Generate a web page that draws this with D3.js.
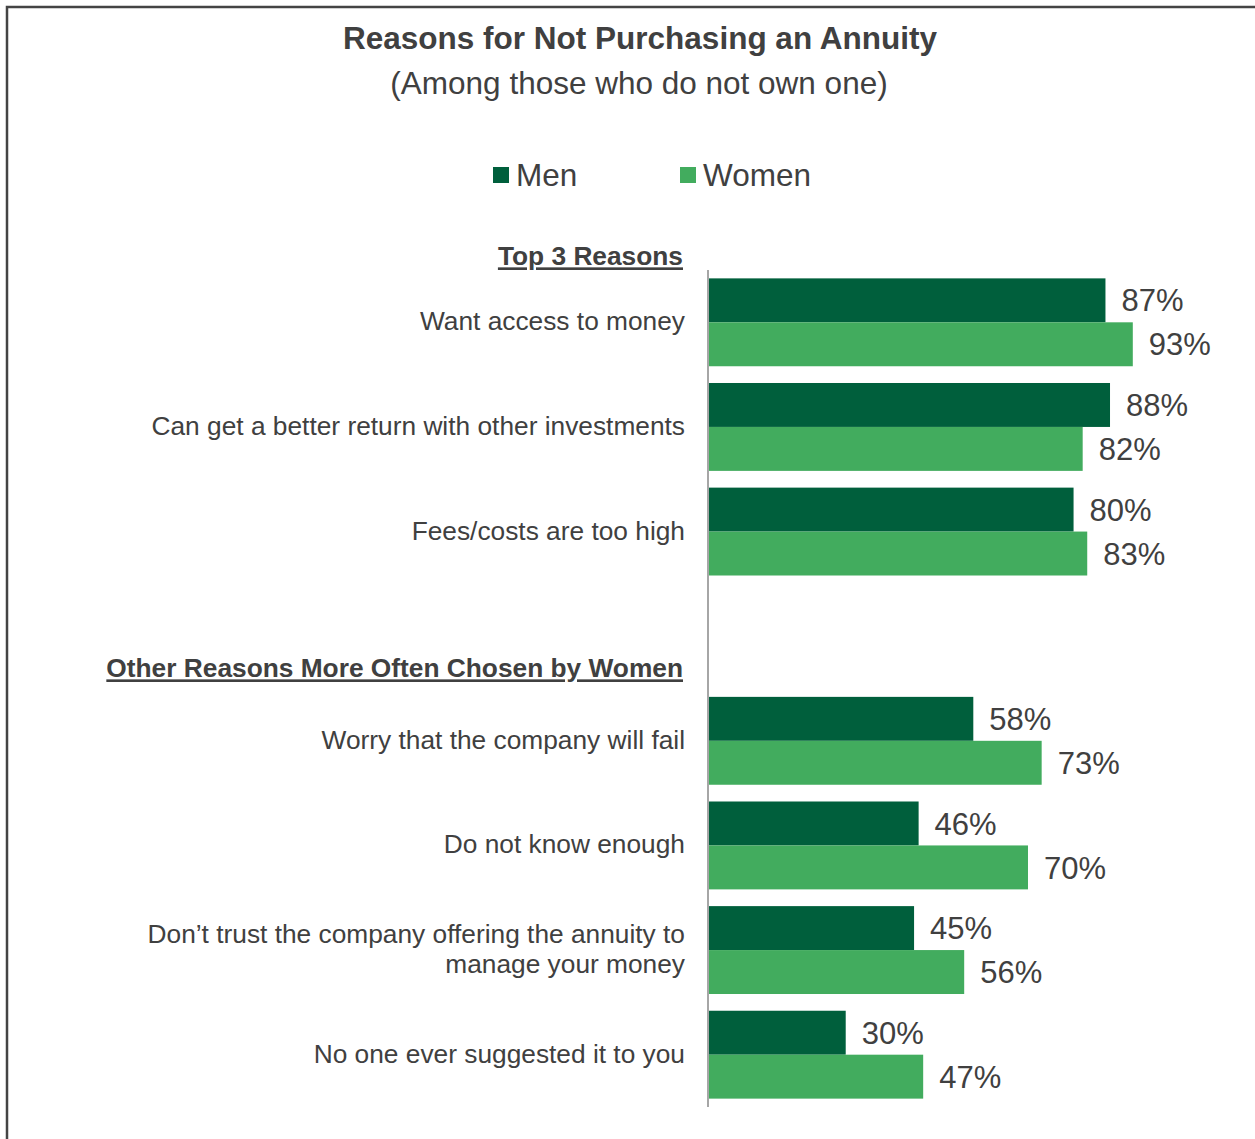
<!DOCTYPE html>
<html>
<head>
<meta charset="utf-8">
<script src="https://cdn.jsdelivr.net/npm/d3@7"></script>
<style>
  html, body { margin: 0; padding: 0; background: #fff; }
  svg { display: block; font-family: "Liberation Sans", Arial, sans-serif; }
  .lbl { fill: #404040; }
</style>
</head>
<body>
<svg id="chart"></svg>
<script>
// ── data ──
const categories = [
  'Want access to money',
  'Can get a better return with other investments',
  'Fees/costs are too high',
  '',                                    // spacer between the two sections
  'Worry that the company will fail',
  'Do not know enough',
  'Don’t trust the company offering the annuity to|manage your money',
  'No one ever suggested it to you'
];
const men   = [87, 88, 80, null, 58, 46, 45, 30];
const women = [93, 82, 83, null, 73, 70, 56, 47];
const seriesNames = ['Men', 'Women'];
const sectionHeads = [
  { text: 'Top 3 Reasons', before: 0 },
  { text: 'Other Reasons More Often Chosen by Women', before: 4 }
];

const W = 1255, H = 1139;
const COL = { Men: '#005F3C', Women: '#42AC5E' };

const svg = d3.select('#chart').attr('width', W).attr('height', H);

// frame (only left + top edges fall inside the picture)
svg.append('rect').attr('x', 7).attr('y', 7).attr('width', W + 20).attr('height', H + 20)
  .attr('fill', 'none').attr('stroke', '#444').attr('stroke-width', 2.5);

// title
svg.append('text').attr('class', 'lbl').attr('x', 640).attr('y', 49)
  .attr('text-anchor', 'middle').attr('font-size', 31.5).attr('font-weight', 'bold')
  .text('Reasons for Not Purchasing an Annuity');
svg.append('text').attr('class', 'lbl').attr('x', 639).attr('y', 94)
  .attr('text-anchor', 'middle').attr('font-size', 31.5)
  .text('(Among those who do not own one)');

// legend
const legX = [493, 680];
seriesNames.forEach((s, i) => {
  svg.append('rect').attr('x', legX[i]).attr('y', 167).attr('width', 16).attr('height', 16).attr('fill', COL[s]);
  svg.append('text').attr('class', 'lbl').attr('x', legX[i] + 23).attr('y', 186)
    .attr('font-size', 31.5).text(s);
});

// scales
const keys = categories.map((c, i) => 'c' + i);
const y = d3.scaleBand().domain(keys).range([270, 1107]).paddingInner(0.16).paddingOuter(0.08);
const ySub = d3.scaleBand().domain(seriesNames).range([0, y.bandwidth()]);
const x = d3.scaleLinear().domain([0, 100]).range([709, 709 + 455.7]);

const rows = categories.map((c, i) => ({ key: keys[i], label: c, Men: men[i], Women: women[i] }))
  .filter(r => r.Men !== null);

// bars
const g = svg.selectAll('.row').data(rows).enter().append('g').attr('class', 'row')
  .attr('transform', d => `translate(0,${y(d.key)})`);

seriesNames.forEach(s => {
  g.append('rect')
    .attr('x', x(0)).attr('y', ySub(s))
    .attr('width', d => x(d[s]) - x(0)).attr('height', ySub.bandwidth())
    .attr('fill', COL[s]);
  g.append('text').attr('class', 'lbl')
    .attr('x', d => x(d[s]) + 16).attr('y', ySub(s) + ySub.bandwidth() / 2)
    .attr('dy', '0.36em').attr('font-size', 31)
    .text(d => d[s] + '%');
});

// category labels (| = line break)
g.each(function(d) {
  const lines = d.label.split('|');
  const t = d3.select(this).append('text').attr('class', 'lbl')
    .attr('text-anchor', 'end').attr('font-size', 26.3);
  lines.forEach((ln, k) => {
    t.append('tspan').attr('x', 685)
      .attr('y', y.bandwidth() / 2 - 1.5 + (k - (lines.length - 1) / 2) * 30)
      .attr('dy', '0.36em').text(ln);
  });
});

// section headers
const headOff = [13, 19.5];
sectionHeads.forEach((h, i) => {
  svg.append('text').attr('class', 'lbl')
    .attr('x', 683).attr('y', y(keys[h.before]) - headOff[i])
    .attr('text-anchor', 'end').attr('font-size', 26.3).attr('font-weight', 'bold')
    .style('text-decoration', 'underline')
    .text(h.text);
});

// axis line
svg.append('line').attr('x1', 708).attr('x2', 708).attr('y1', 270).attr('y2', 1107)
  .attr('stroke', '#A6A6A6').attr('stroke-width', 2);
</script>
</body>
</html>
